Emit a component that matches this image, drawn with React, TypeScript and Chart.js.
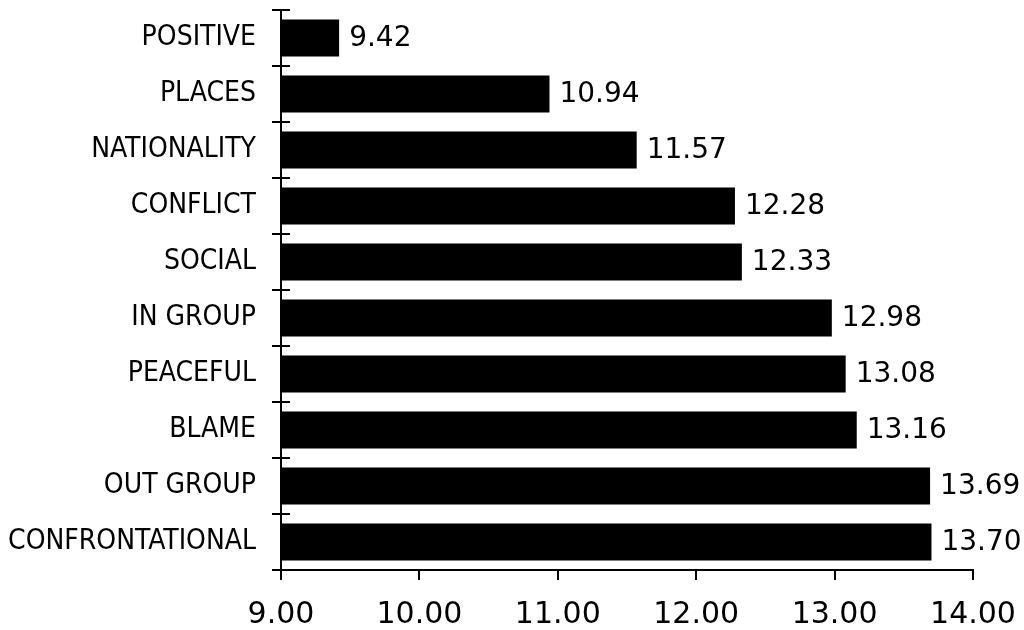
import React, { useEffect, useRef } from "react";
import { Chart, registerables } from "chart.js";

Chart.register(...registerables);

const categories = [
  "POSITIVE",
  "PLACES",
  "NATIONALITY",
  "CONFLICT",
  "SOCIAL",
  "IN GROUP",
  "PEACEFUL",
  "BLAME",
  "OUT GROUP",
  "CONFRONTATIONAL",
];
const values = [9.42, 10.94, 11.57, 12.28, 12.33, 12.98, 13.08, 13.16, 13.69, 13.7];
const xMin = 9;
const xMax = 14;
const xStep = 1;

const VALUE_FONT = "28px 'DejaVu Sans'";

const decorPlugin = {
  id: "decor",
  afterDatasetsDraw(chart: any) {
    const ctx = chart.ctx;
    const meta = chart.getDatasetMeta(0);
    ctx.save();
    ctx.fillStyle = "#000";
    ctx.font = VALUE_FONT;
    ctx.textAlign = "left";
    ctx.textBaseline = "middle";
    meta.data.forEach((bar: any, i: number) => {
      ctx.fillText(values[i].toFixed(2), bar.x + 10, bar.y + 1);
    });
    // crossing tick marks on the category axis at category boundaries
    const y = chart.scales.y;
    const x = chart.scales.x;
    const ax = x.getPixelForValue(xMin);
    ctx.strokeStyle = "#000";
    ctx.lineWidth = 2;
    for (let i = 0; i <= categories.length; i++) {
      const py = Math.round(y.getPixelForValue(i - 0.5));
      ctx.beginPath();
      ctx.moveTo(ax - 9, py);
      ctx.lineTo(ax + 9, py);
      ctx.stroke();
    }
    ctx.restore();
  },
};

export default function App() {
  const ref = useRef<HTMLCanvasElement | null>(null);
  useEffect(() => {
    if (!ref.current) return;
    const chart = new Chart(ref.current, {
      type: "bar",
      data: {
        labels: categories,
        datasets: [
          {
            data: values,
            backgroundColor: "#000",
            borderWidth: 0,
            categoryPercentage: 1,
            barPercentage: 0.66,
          },
        ],
      },
      options: {
        indexAxis: "y",
        animation: false,
        responsive: false,
        maintainAspectRatio: false,
        layout: { padding: { top: 10, right: 51, left: 0, bottom: 0 } },
        plugins: {
          legend: { display: false },
          tooltip: { enabled: false },
        },
        scales: {
          x: {
            min: xMin,
            max: xMax,
            afterFit(scale: any) {
              scale.height = 60;
              scale.paddingLeft = 0;
              scale.paddingRight = 0;
            },
            ticks: {
              stepSize: xStep,
              color: "#000",
              padding: 17,
              font: { family: "'DejaVu Sans'", size: 30 },
              callback: (v: any) => Number(v).toFixed(2),
            },
            grid: {
              display: true,
              drawOnChartArea: false,
              drawTicks: true,
              tickLength: 10,
              color: "#000",
              lineWidth: 2,
            },
            border: { display: true, color: "#000", width: 2 },
          },
          y: {
            offset: true,
            afterFit(scale: any) {
              scale.width = 281;
              scale.paddingTop = 0;
              scale.paddingBottom = 0;
            },
            ticks: {
              color: "#000",
              padding: 25,
              font: { family: "'DejaVu Sans Condensed'", size: 28 },
            },
            grid: { display: false, drawTicks: false },
            border: { display: true, color: "#000", width: 2 },
          },
        },
      },
      plugins: [decorPlugin],
    });
    return () => chart.destroy();
  }, []);
  return (
    <div style={{ position: "fixed", left: 0, top: 0, width: 1024, height: 630, background: "#fff" }}>
      <canvas ref={ref} width={1024} height={630} />
    </div>
  );
}
